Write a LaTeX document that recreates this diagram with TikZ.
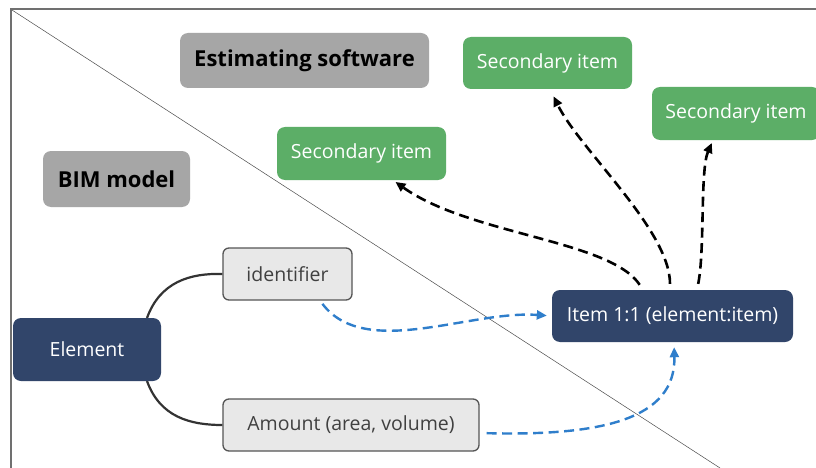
\documentclass[tikz,border=0pt]{standalone}
\usepackage{fontspec}
\setmainfont{Open Sans}
\usetikzlibrary{arrows.meta}
\definecolor{navy}{HTML}{31456A}
\definecolor{sgreen}{HTML}{5CAE67}
\definecolor{lgray}{HTML}{A6A6A6}
\definecolor{pale}{HTML}{E8E8E8}
\definecolor{paleborder}{HTML}{555555}
\definecolor{flowblue}{HTML}{2F7ECB}
\definecolor{darktext}{HTML}{404040}
\definecolor{framegray}{HTML}{707070}
\tikzset{
  box/.style={rounded corners=8pt, inner sep=0pt, align=center, font=\fontsize{19.5}{22}\selectfont},
  graybox/.style={box, fill=lgray, text=black, font=\fontsize{22}{24}\selectfont\bfseries},
  greenbox/.style={box, fill=sgreen, text=white},
  navybox/.style={box, fill=navy, text=white},
  palebox/.style={box, rounded corners=6pt, fill=pale, draw=paleborder, line width=1.3pt, text=darktext},
  blackdash/.style={draw=black, line width=2.6pt, dash pattern=on 10pt off 5.5pt, -{Triangle[length=10pt,width=9pt]}},
  bluedash/.style={draw=flowblue, line width=2.4pt, dash pattern=on 10pt off 5.5pt, -{Triangle[length=10pt,width=9pt]}},
  link/.style={draw=black!80, line width=2.2pt},
}
\begin{document}
\begin{tikzpicture}[x=1pt,y=-1pt]
\useasboundingbox (0,0) rectangle (816,468);
\clip (0,0) rectangle (816,468);
\fill[white] (0,0) rectangle (816,468);
% frame and diagonal
\draw[framegray, line width=2.2pt] (11,470) -- (11,9) -- (818,9);
\coordinate (d1) at (12,10);
\coordinate (d2) at (720,468);
\draw[black!70, line width=0.5pt] (d1) -- (d2);
% nodes
\node[graybox, minimum width=249pt, minimum height=55pt] (est) at (304.5,60.5) {Estimating software};
\node[greenbox, minimum width=169pt, minimum height=52pt] (sec1) at (547.5,63) {Secondary item};
\node[greenbox, minimum width=168pt, minimum height=53pt] (sec2) at (736,113.5) {Secondary item};
\node[greenbox, minimum width=169pt, minimum height=53pt] (sec3) at (361.5,153.5) {Secondary item};
\node[graybox, minimum width=147pt, minimum height=56pt] (bim) at (116.5,179) {BIM model};
% links from element
\coordinate (lu) at (147,318);
\coordinate (ll) at (147,381);
\node[palebox, minimum width=129pt, minimum height=52pt] (id) at (287.5,274) {identifier};
\node[palebox, minimum width=256pt, minimum height=52pt] (amt) at (351,425) {Amount (area, volume)};
\draw[link] (lu) .. controls (160,282) and (190,273) .. (id.west);
\draw[link] (ll) .. controls (160,417) and (190,425) .. (amt.west);
\node[navybox, minimum width=148pt, minimum height=63pt] (el) at (87,349.5) {Element};
\node[navybox, minimum width=241pt, minimum height=52pt] (item) at (672.5,316) {Item 1:1 (element:item)};
% blue arrows
\draw[bluedash, shorten <=4pt, shorten >=5pt] ([xshift=32.5pt]id.south) .. controls (365,360) and (470,310) .. (item.west);
\draw[bluedash, shorten <=7pt, shorten >=5pt] ([yshift=-8pt]amt.east) .. controls (600,436) and (676,420) .. ([xshift=1.5pt]item.south);
% black arrows
\draw[blackdash, shorten <=6pt, shorten >=3pt] ([xshift=-29.5pt]item.north) .. controls (610,240) and (470,235) .. ([xshift=31.5pt]sec3.south);
\draw[blackdash, shorten <=6pt, shorten >=8pt] ([xshift=-2.5pt]item.north) .. controls (670,230) and (580,150) .. ([xshift=2.5pt]sec1.south);
\draw[blackdash, shorten <=6pt, shorten >=3pt] ([xshift=24.5pt]item.north) .. controls (705,250) and (700,170) .. ([xshift=-23pt]sec2.south);
\end{tikzpicture}
\end{document}
